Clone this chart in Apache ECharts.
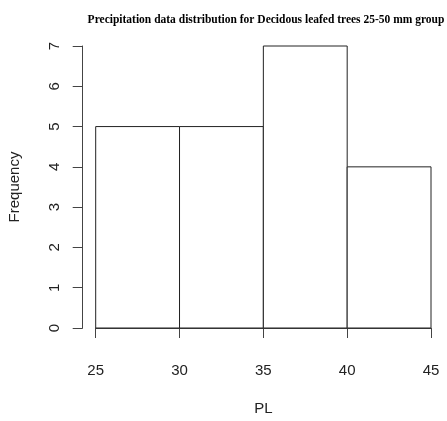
<!DOCTYPE html>
<html><head><meta charset="utf-8">
<script src="https://cdn.jsdelivr.net/npm/echarts@6/dist/echarts.min.js"></script>
<style>html,body{margin:0;padding:0;background:#fff}#c{width:447px;height:421px}</style>
</head><body><div id="c"></div>
<script>
const binStarts = [25, 30, 35, 40];
const binEnds = [30, 35, 40, 45];
const counts = [5, 5, 7, 4];
const xTicks = [25, 30, 35, 40, 45];
const yTicks = [0, 1, 2, 3, 4, 5, 6, 7];
const titleText = 'Precipitation data distribution for Decidous leafed trees 25-50 mm group';
const yName = 'Frequency';
const xName = 'PL';

const chart = echarts.init(document.getElementById('c'), null, {renderer: 'canvas'});
const data = binStarts.map((s, i) => [s, binEnds[i], counts[i]]);
chart.setOption({
  animation: false,
  backgroundColor: '#fff',
  title: {
    text: titleText, left: 261, top: 9, textAlign: 'center',
    textStyle: {fontFamily: 'Liberation Serif', fontWeight: 'bold', fontSize: 11.5, color: '#000'}
  },
  grid: {left: 95.7, right: 16, top: 46, bottom: 93, containLabel: false, outerBoundsMode: 'none'},
  xAxis: {
    type: 'value', min: 25, max: 45, interval: 5, offset: 11,
    name: xName, nameLocation: 'middle', nameGap: 62,
    nameTextStyle: {fontFamily: 'Liberation Sans', fontSize: 15, color: '#222'},
    axisLine: {show: true, lineStyle: {color: '#444', width: 1}},
    axisTick: {show: true, length: 10, lineStyle: {color: '#444'}},
    axisLabel: {margin: 24, fontFamily: 'Liberation Sans', fontSize: 15, color: '#222'},
    splitLine: {show: false}
  },
  yAxis: {
    type: 'value', min: 0, max: 7, interval: 1, offset: 13,
    name: yName, nameLocation: 'middle', nameGap: 60,
    nameTextStyle: {fontFamily: 'Liberation Sans', fontSize: 15, color: '#222'},
    axisLine: {show: true, lineStyle: {color: '#444', width: 1}},
    axisTick: {show: true, length: 10, lineStyle: {color: '#444'}},
    axisLabel: {margin: 20, rotate: 90, fontFamily: 'Liberation Sans', fontSize: 15, color: '#222'},
    splitLine: {show: false}
  },
  series: [{
    type: 'custom',
    data: data,
    encode: {x: [0, 1], y: 2},
    renderItem: function (params, api) {
      const p0 = api.coord([api.value(0), 0]);
      const p1 = api.coord([api.value(1), api.value(2)]);
      return {
        type: 'rect',
        shape: {x: p0[0], y: p1[1], width: p1[0] - p0[0], height: p0[1] - p1[1]},
        style: {fill: '#fff', stroke: '#222', lineWidth: 1}
      };
    }
  }]
});
</script></body></html>
